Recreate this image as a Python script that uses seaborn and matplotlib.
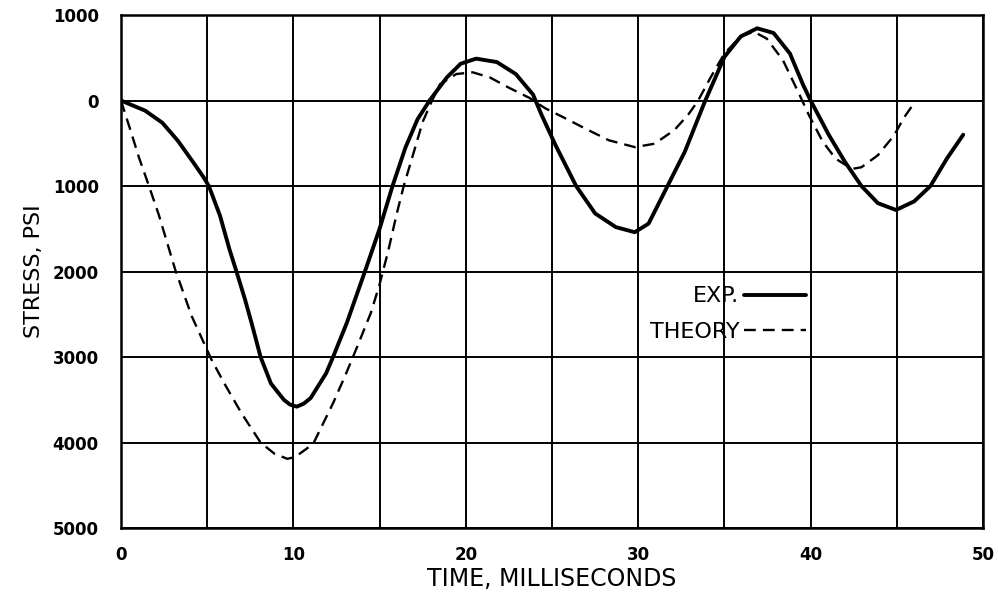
import numpy as np
import pandas as pd
import seaborn as sns
import matplotlib
matplotlib.use("Agg")
import matplotlib.pyplot as plt
from matplotlib.ticker import FuncFormatter, MultipleLocator

# experimental record, time (ms) vs stress (psi, tension positive)
exp_t = [0, 1.4, 2.4, 3.3, 4.2, 4.8, 5.1, 5.75, 6.3, 6.7, 7.2, 7.6, 8.1, 8.7,
         9.45, 9.8, 10.2, 10.6, 11.0, 11.9, 12.3, 13.1, 14.2, 15.0, 15.75, 16.5,
         17.2, 17.9, 18.9, 19.7, 20.6, 21.8, 22.9, 23.9, 24.4, 25.2, 26.4, 27.5,
         28.7, 29.8, 30.6, 31.7, 32.7, 33.85, 35.0, 35.95, 36.9, 37.85, 38.8,
         39.55, 40.0, 41.05, 42.0, 42.95, 43.9, 44.95, 46.0, 46.95, 47.9, 48.85]
exp_s = [0, -118, -260, -470, -725, -900, -1000, -1350, -1745, -2000, -2330,
         -2620, -3000, -3310, -3500, -3555, -3580, -3545, -3480, -3190, -3000,
         -2600, -1970, -1500, -1000, -550, -220, 0, 270, 430, 490, 450, 310, 70,
         -170, -520, -1000, -1320, -1480, -1540, -1440, -1000, -600, -20, 510,
         750, 845, 790, 550, 190, 0, -400, -720, -1000, -1200, -1280, -1180,
         -1000, -680, -400]

# theory curve
th_t = [0, 0.5, 1.05, 1.6, 2.2, 3.15, 4.1, 5.25, 6.0, 7.0, 8.1, 8.9, 9.65,
        10.1, 11.15, 12.3, 13.0, 13.7, 14.5, 15.0, 15.5, 16.0, 16.4, 16.8, 17.5,
        18.0, 18.5, 19.45, 20.4, 21.4, 22.5, 23.7, 24.6, 25.6, 26.9, 28.3, 29.8,
        30.95, 32.1, 32.9, 33.45, 34.2, 35.0, 35.95, 36.7, 37.45, 38.4, 39.35,
        39.9, 40.7, 41.45, 42.4, 42.95, 43.9, 44.85, 45.4, 46.0]
th_s = [0, -315, -670, -985, -1340, -1980, -2520, -3030, -3310, -3660, -4000,
        -4130, -4190, -4170, -4015, -3540, -3220, -2880, -2480, -2150, -1760,
        -1320, -1000, -730, -250, -20, 190, 310, 330, 270, 150, 30, -90, -190,
        -325, -465, -545, -505, -345, -165, -10, 270, 550, 750, 805, 725, 470,
        70, -170, -480, -680, -800, -780, -640, -405, -205, -30]

exp_df = pd.DataFrame({"time": exp_t, "stress": exp_s})
th_df = pd.DataFrame({"time": th_t, "stress": th_s})

sns.set_style("white")
plt.rcParams['font.family'] = ['DejaVu Sans']
plt.rcParams['text.color'] = 'black'
plt.rcParams['axes.labelcolor'] = 'black'
plt.rcParams['xtick.color'] = 'black'
plt.rcParams['ytick.color'] = 'black'

fig = plt.figure(figsize=(9.98, 5.94), dpi=100)
ax = fig.add_axes([0.1212, 0.111, 0.8638, 0.8637])

sns.lineplot(data=exp_df, x="time", y="stress", ax=ax, color="black",
             linewidth=2.8, label="EXP.", sort=False,
             solid_joinstyle="round", solid_capstyle="round")
sns.lineplot(data=th_df, x="time", y="stress", ax=ax, color="black",
             linewidth=1.7, linestyle=(0, (5, 3)), label="THEORY", sort=False,
             dash_joinstyle="round")

ax.set_xlim(0, 50)
ax.set_ylim(-5000, 1000)
ax.xaxis.set_major_locator(MultipleLocator(10))
ax.xaxis.set_minor_locator(MultipleLocator(5))
ax.yaxis.set_major_locator(MultipleLocator(1000))
ax.yaxis.set_major_formatter(FuncFormatter(lambda v, p: f"{abs(v):.0f}"))

ax.grid(True, which="both", axis="x", color="black", linewidth=1.4)
ax.grid(True, which="major", axis="y", color="black", linewidth=1.4)
for sp in ax.spines.values():
    sp.set_color("black")
    sp.set_linewidth(1.8)

ax.tick_params(axis="both", which="both", length=0)
ax.tick_params(axis="x", pad=13, labelsize=12)
ax.tick_params(axis="y", pad=16, labelsize=12)
for lab in ax.get_xticklabels() + ax.get_yticklabels():
    lab.set_fontweight("bold")

ax.set_xlabel("TIME, MILLISECONDS", fontsize=17, labelpad=2)
ax.set_ylabel("STRESS, PSI", fontsize=16, labelpad=6)

leg = ax.legend(loc="upper left", bbox_to_anchor=(0.59, 0.51), frameon=False,
                markerfirst=False, fontsize=16, handlelength=2.8,
                handletextpad=0.2, labelspacing=0.7)

fig.savefig("out.png", dpi=100, facecolor="white")
